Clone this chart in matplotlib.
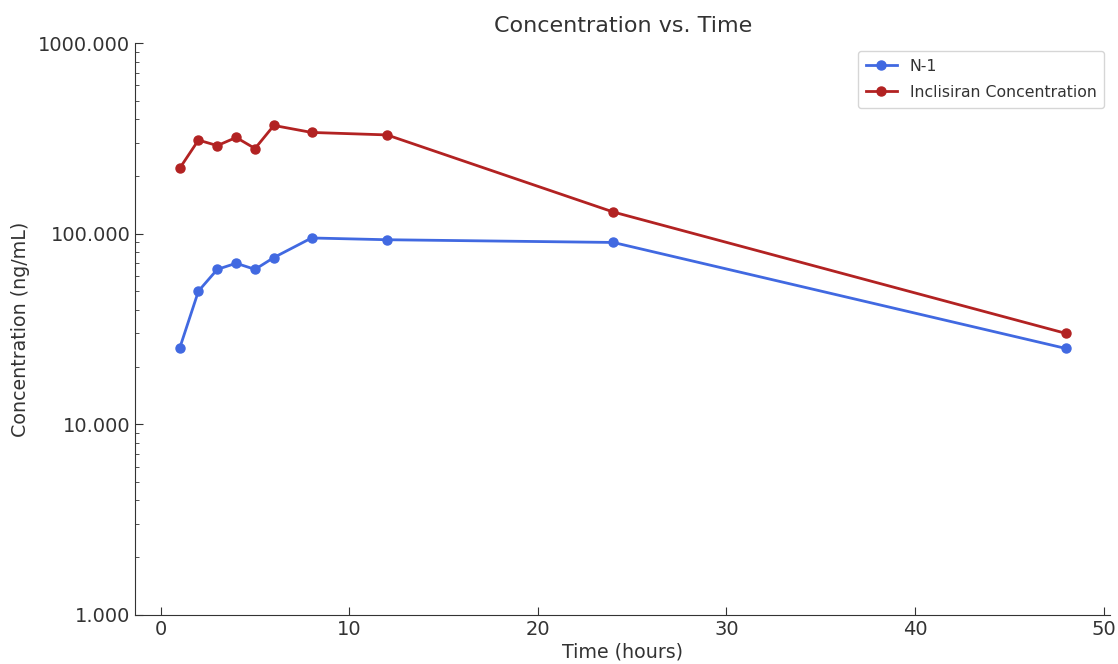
import matplotlib
matplotlib.use("Agg")
import matplotlib.pyplot as plt
from matplotlib.ticker import FormatStrFormatter

time_h = [1, 2, 3, 4, 5, 6, 8, 12, 24, 48]
n1 = [25, 50, 65, 70, 65, 75, 95, 93, 90, 25]
inclisiran = [220, 310, 290, 320, 280, 370, 340, 330, 130, 30]

plt.rcParams["text.color"] = "#333333"
plt.rcParams["axes.labelcolor"] = "#333333"
plt.rcParams["xtick.color"] = "#333333"
plt.rcParams["ytick.color"] = "#333333"

fig, ax = plt.subplots(figsize=(11.18, 6.64), dpi=100)
ax.plot(time_h, n1, marker="o", color="royalblue", linewidth=2, markersize=6.5, label="N-1")
ax.plot(time_h, inclisiran, marker="o", color="firebrick", linewidth=2, markersize=6.5,
        label="Inclisiran Concentration")

ax.set_yscale("log")
ax.set_ylim(1, 1000)
ax.yaxis.set_major_formatter(FormatStrFormatter("%.3f"))
ax.set_xticks([0, 10, 20, 30, 40, 50])
ax.tick_params(axis="both", which="both", direction="in", labelsize=14)
ax.tick_params(axis="both", which="major", length=6)
ax.tick_params(axis="y", which="minor", length=3)
for s in ("top", "right"):
    ax.spines[s].set_visible(False)
for s in ("left", "bottom"):
    ax.spines[s].set_color("#333333")

ax.set_xlabel("Time (hours)", fontsize=13.7, labelpad=3)
ax.set_ylabel("Concentration (ng/mL)", fontsize=13.7, labelpad=6)
ax.set_title("Concentration vs. Time", fontsize=16, pad=8)
ax.legend(loc="upper right", fontsize=11.3, labelspacing=0.7, borderpad=0.5,
          bbox_to_anchor=(1.002, 1.0))

fig.subplots_adjust(left=0.121, right=0.993, top=0.935, bottom=0.074)
fig.savefig("out.png", dpi=100)
